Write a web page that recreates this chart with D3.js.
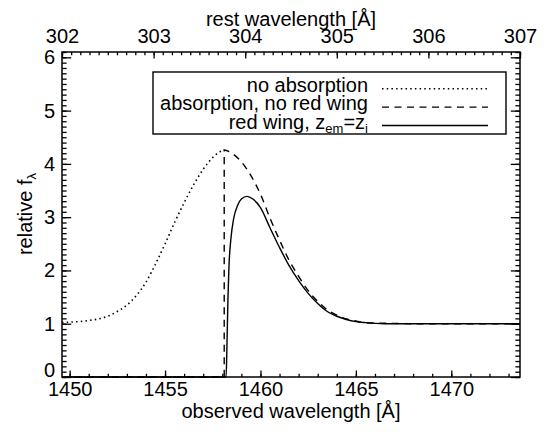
<!DOCTYPE html>
<html>
<head>
<meta charset="utf-8">
<script src="https://cdn.jsdelivr.net/npm/d3@7"></script>
<style>
  body { margin: 0; background: #fff; }
  svg { display: block; font-family: "Liberation Sans", Arial, Helvetica, sans-serif; }
</style>
</head>
<body>
<svg width="547" height="432"></svg>
<script>
// ticks
var obsTicks = [1450, 1455, 1460, 1465, 1470];
var restTicks = [302, 303, 304, 305, 306, 307];
var fluxTicks = [0, 1, 2, 3, 4, 5, 6];
var onePlusZ = 4.8;

// no absorption (dotted), only left of the cut is visible
var waveNoAbs = [1449.6, 1450.0, 1450.5, 1451.0, 1451.5, 1452.0, 1452.5, 1453.0, 1453.5, 1454.0,
                 1454.5, 1455.0, 1455.5, 1456.0, 1456.5, 1457.0, 1457.5, 1457.8, 1458.1];
var fluxNoAbs = [1.02, 1.03, 1.04, 1.06, 1.09, 1.14, 1.23, 1.35, 1.53, 1.78,
                 2.12, 2.50, 2.90, 3.27, 3.61, 3.90, 4.12, 4.21, 4.26];

// absorption, no red wing (dashed)
var waveAbs = [1449.6, 1458.1, 1458.1, 1458.5, 1459.0, 1459.5, 1460.0, 1460.5, 1461.0, 1461.5,
               1462.0, 1462.5, 1463.0, 1463.5, 1464.0, 1464.5, 1465.0, 1465.5, 1466.5, 1468.0, 1473.6];
var fluxAbs = [0, 0, 4.26, 4.20, 4.04, 3.78, 3.43, 2.98, 2.57, 2.19,
               1.89, 1.62, 1.42, 1.26, 1.16, 1.09, 1.05, 1.02, 1.01, 1.00, 1.00];

// red wing, z_em = z_i (solid)
var waveWing = [1449.6, 1458.20, 1458.25, 1458.30, 1458.35, 1458.45, 1458.60, 1458.80, 1459.00, 1459.30,
                1459.60, 1460.00, 1460.50, 1461.00, 1461.50, 1462.00, 1462.50, 1463.00, 1463.50, 1464.00,
                1464.50, 1465.00, 1465.50, 1466.50, 1473.60];
var fluxWing = [0, 0, 0.71, 1.52, 2.08, 2.59, 2.98, 3.22, 3.34, 3.39,
                3.34, 3.18, 2.80, 2.43, 2.09, 1.81, 1.57, 1.38, 1.23, 1.14,
                1.08, 1.04, 1.02, 1.00, 1.00];

var legendNames = ['no absorption', 'absorption, no red wing', 'red wing'];
var legendDash = ['1.5,3.2', '7,5.5', null];

var svg = d3.select('svg');
// plot frame (note: "top" is taken by window.top)
var pLeft = 62, pRight = 520, pTop = 52, pBottom = 377;

var x = d3.scaleLinear().domain([302 * onePlusZ, 307 * onePlusZ]).range([pLeft, pRight]);
var xRest = d3.scaleLinear().domain([302, 307]).range([pLeft, pRight]);
var y = d3.scaleLinear().domain([0, 6.1]).range([pBottom, pTop]);

var majX = 6.5, majY = 9.2;

function styleAxis(g) {
  g.select('.domain').remove();
  g.selectAll('line').attr('stroke', '#000').attr('stroke-width', 1.3);
  g.selectAll('text').attr('fill', '#000').attr('font-size', 20).attr('font-family', null);
}

// bottom
svg.append('g').attr('transform', 'translate(0,' + pBottom + ')')
  .call(d3.axisBottom(x).tickValues(d3.range(1450, 1474, 1)).tickSize(-majX / 2).tickFormat(''))
  .call(styleAxis);
svg.append('g').attr('transform', 'translate(0,' + pBottom + ')')
  .call(d3.axisBottom(x).tickValues(obsTicks).tickSize(-majX).tickPadding(5).tickFormat(d3.format('d')))
  .call(styleAxis);

// top
svg.append('g').attr('transform', 'translate(0,' + pTop + ')')
  .call(d3.axisTop(xRest).tickValues(d3.range(302, 307.001, 0.1)).tickSize(-majX / 2).tickFormat(''))
  .call(styleAxis);
svg.append('g').attr('transform', 'translate(0,' + pTop + ')')
  .call(d3.axisTop(xRest).tickValues(restTicks).tickSize(-majX).tickPadding(9).tickFormat(d3.format('d')))
  .call(styleAxis);

// left and right
[['left', pLeft], ['right', pRight]].forEach(function (s) {
  var ax = s[0] == 'left' ? d3.axisLeft : d3.axisRight;
  svg.append('g').attr('transform', 'translate(' + s[1] + ',0)')
    .call(ax(y).tickValues(d3.range(0, 6.101, 0.1)).tickSize(-majY / 2).tickFormat(''))
    .call(styleAxis);
  var g = svg.append('g').attr('transform', 'translate(' + s[1] + ',0)')
    .call(ax(y).tickValues(fluxTicks).tickSize(-majY).tickPadding(7)
      .tickFormat(s[0] == 'left' ? d3.format('d') : ''))
    .call(styleAxis);
  // the 0 label sits above the bottom axis
  g.selectAll('.tick text').filter(function (d) { return d == 0; }).attr('y', -7);
});

svg.append('rect').attr('x', pLeft).attr('y', pTop).attr('width', pRight - pLeft).attr('height', pBottom - pTop)
  .attr('fill', 'none').attr('stroke', '#000').attr('stroke-width', 1.5);

// curves
var line = d3.line().x(function (d) { return x(d[0]); }).y(function (d) { return y(d[1]); })
  .curve(d3.curveMonotoneX);

svg.append('path').datum(d3.zip(waveNoAbs, fluxNoAbs)).attr('d', line)
  .attr('fill', 'none').attr('stroke', '#000').attr('stroke-width', 1.6).attr('stroke-dasharray', legendDash[0]);
svg.append('path').datum(d3.zip(waveWing, fluxWing)).attr('d', line)
  .attr('fill', 'none').attr('stroke', '#000').attr('stroke-width', 1.4);
svg.append('path').datum(d3.zip(waveAbs, fluxAbs)).attr('d', line)
  .attr('fill', 'none').attr('stroke', '#000').attr('stroke-width', 1.4).attr('stroke-dasharray', legendDash[1]);

// legend
svg.append('rect').attr('x', 153).attr('y', 72).attr('width', 353).attr('height', 62)
  .attr('fill', '#fff').attr('stroke', '#000').attr('stroke-width', 1.4);
legendNames.forEach(function (name, i) {
  var by = 91.7 + i * 18.4;
  var t = svg.append('text').attr('x', 368).attr('y', by).attr('text-anchor', 'end')
    .attr('font-size', 20).text(name);
  if (i == 2) {
    t.text(null);
    t.append('tspan').text('red wing, z');
    t.append('tspan').attr('font-size', 13).attr('dy', 4).text('em');
    t.append('tspan').attr('dy', -4).text('=z');
    t.append('tspan').attr('font-size', 13).attr('dy', 4).text('i');
  }
  var l = svg.append('line').attr('x1', 382).attr('x2', 488).attr('y1', by - 3).attr('y2', by - 3)
    .attr('stroke', '#000').attr('stroke-width', 1.4);
  if (legendDash[i]) l.attr('stroke-dasharray', legendDash[i]);
});

// axis titles
svg.append('text').attr('x', (pLeft + pRight) / 2).attr('y', 418).attr('text-anchor', 'middle')
  .attr('font-size', 20).text('observed wavelength [Å]');
svg.append('text').attr('x', (pLeft + pRight) / 2).attr('y', 26).attr('text-anchor', 'middle')
  .attr('font-size', 20).text('rest wavelength [Å]');
var yt = svg.append('text').attr('transform', 'translate(32,214) rotate(-90)').attr('text-anchor', 'middle')
  .attr('font-size', 20);
yt.append('tspan').text('relative f');
yt.append('tspan').attr('font-size', 13).attr('dy', 4).text('λ');
</script>
</body>
</html>
